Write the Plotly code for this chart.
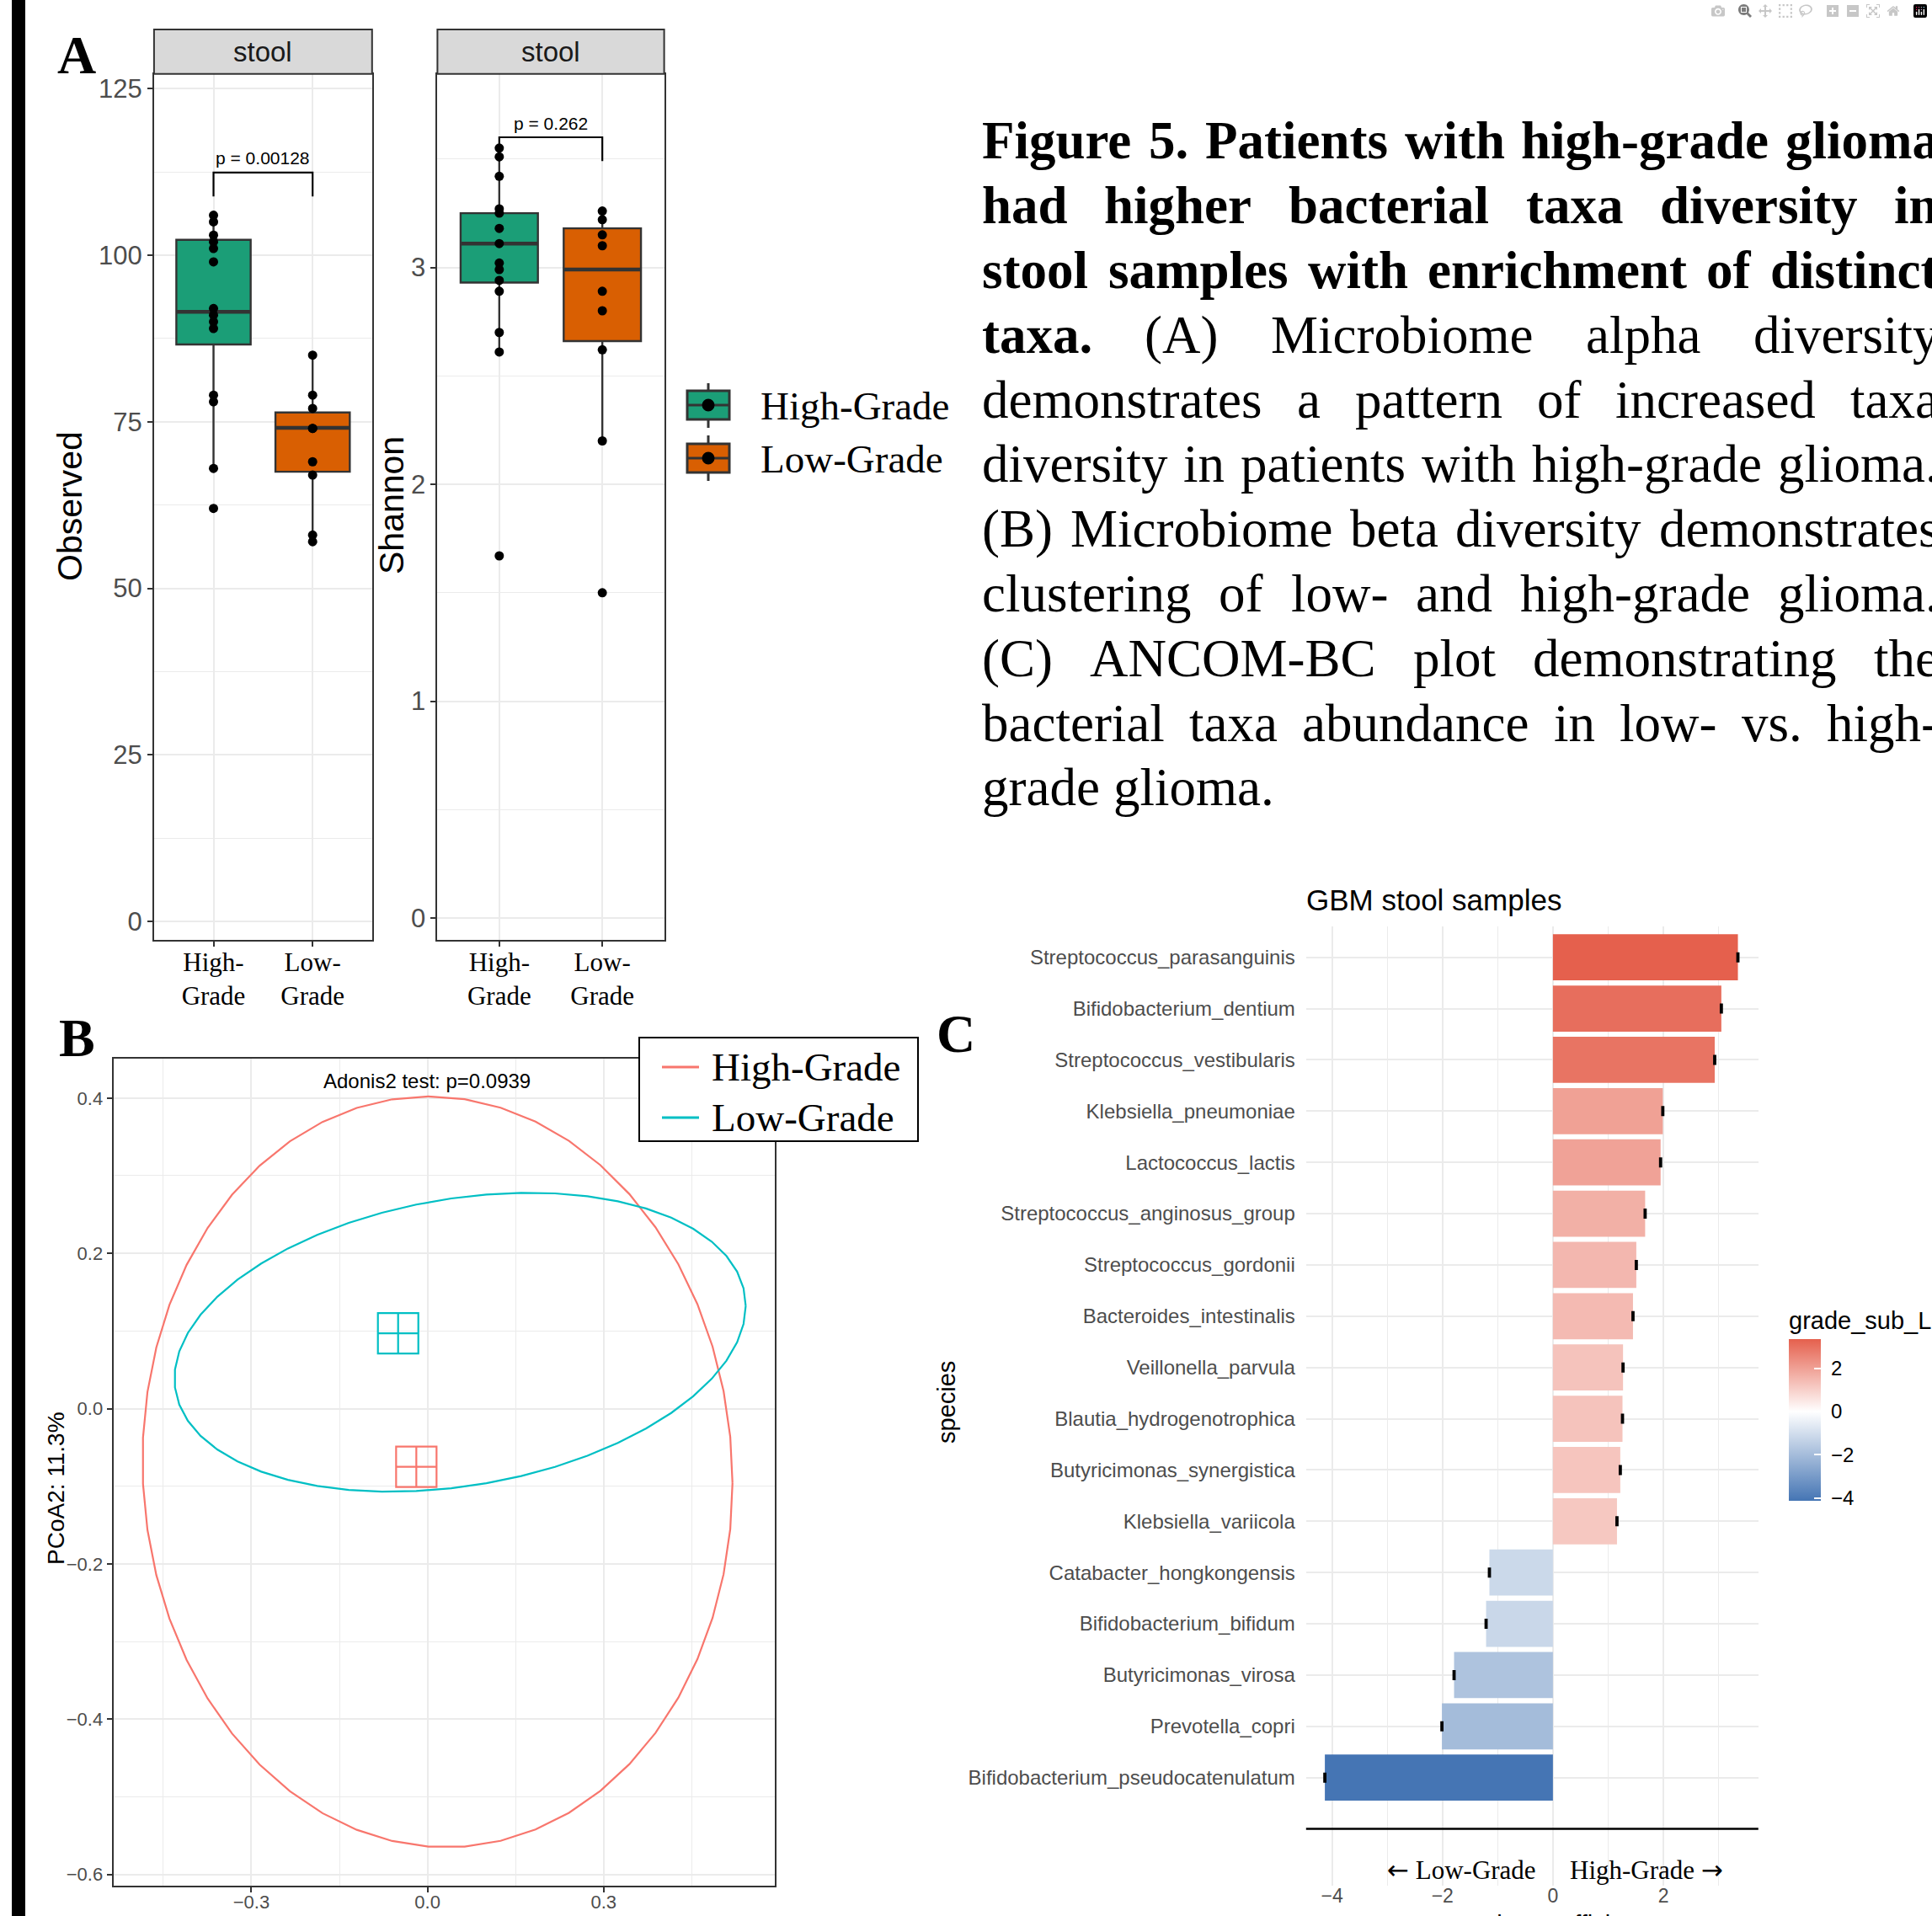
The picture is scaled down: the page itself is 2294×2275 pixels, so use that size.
import numpy as np
import plotly.graph_objects as go

W, H = 2294, 2275
SANS = "Liberation Sans, Arial, Helvetica, sans-serif"
SERIF = "Liberation Serif, Times New Roman, serif"
GRID = "#EBEBEB"
TICKGREY = "#4D4D4D"
BORDER = "#333333"

# ---------------- Panel A data (alpha diversity) ----------------
group_names = ["High-Grade", "Low-Grade"]
group_ticktext = ["High-<br>Grade", "Low-<br>Grade"]
group_fill = ["#1B9E77", "#D95F02"]
box_width = 0.75

obs_high = [106, 105, 103, 102, 101, 99, 92, 91, 90, 89, 79, 78, 68, 62]
obs_low = [85, 79, 77, 74, 74, 69, 67, 58, 57]
obs_q1 = [86.6, 67.5]
obs_median = [91.5, 74.1]
obs_q3 = [102.3, 76.4]
obs_lowerfence = [68, 57]
obs_upperfence = [106, 85]
obs_p_label = "p = 0.00128"
obs_bracket = [108.8, 112.4]
obs_p_y = 114.6

sha_high = [3.55, 3.51, 3.42, 3.27, 3.25, 3.18, 3.11, 3.02, 2.99, 2.94, 2.89, 2.70, 2.61, 1.67]
sha_low = [3.26, 3.22, 3.15, 3.10, 2.89, 2.80, 2.62, 2.20, 1.50]
sha_q1 = [2.93, 2.66]
sha_median = [3.11, 2.99]
sha_q3 = [3.25, 3.18]
sha_lowerfence = [2.61, 2.20]
sha_upperfence = [3.55, 3.26]
sha_p_label = "p = 0.262"
sha_bracket = [3.49, 3.60]
sha_p_y = 3.665

# ---------------- Panel B data (beta diversity PCoA) ----------------
beta_colors = ["#F8766D", "#00BFC4"]
centroid_x = [-0.019, -0.050]
centroid_y = [-0.075, 0.097]
ellipse_cx = [0.017, 0.0555]
ellipse_cy = [-0.0815, 0.0855]
ellipse_sxx = [0.2525, 0.2367]
ellipse_syy = [0.2339, 0.03706]
ellipse_sxy = [-0.0072, 0.0228]
adonis_label = "Adonis2 test: p=0.0939"

# ---------------- Panel C data (ANCOM-BC) ----------------
species = ["Streptococcus_parasanguinis", "Bifidobacterium_dentium", "Streptococcus_vestibularis",
           "Klebsiella_pneumoniae", "Lactococcus_lactis", "Streptococcus_anginosus_group",
           "Streptococcus_gordonii", "Bacteroides_intestinalis", "Veillonella_parvula",
           "Blautia_hydrogenotrophica", "Butyricimonas_synergistica", "Klebsiella_variicola",
           "Catabacter_hongkongensis", "Bifidobacterium_bifidum", "Butyricimonas_virosa",
           "Prevotella_copri", "Bifidobacterium_pseudocatenulatum"]
lfc = [3.35, 3.05, 2.93, 1.99, 1.95, 1.67, 1.51, 1.45, 1.27, 1.26, 1.22, 1.16,
       -1.15, -1.21, -1.79, -2.01, -4.13]
lfc_se = [0.01, 0.01, 0.01, 0.01, 0.01, 0.01, 0.01, 0.01, 0.01, 0.01, 0.01, 0.01,
          0.01, 0.01, 0.01, 0.01, 0.01]
c_ticks = [-4, -2, 0, 2]
c_ticktext = ["\u00a0\u22124", "\u00a0\u22122", "\u00a00", "\u00a02"]

# ---------------- Caption ----------------
caption_lines = [
    "Figure 5. Patients with high-grade glioma",
    "had higher bacterial taxa diversity in",
    "stool samples with enrichment of distinct",
    "taxa. (A) Microbiome alpha diversity",
    "demonstrates a pattern of increased taxa",
    "diversity in patients with high-grade glioma.",
    "(B) Microbiome beta diversity demonstrates",
    "clustering of low- and high-grade glioma.",
    "(C) ANCOM-BC plot demonstrating the",
    "bacterial taxa abundance in low- vs. high-",
    "grade glioma.",
]
caption_bold_words = [99, 99, 99, 1, 0, 0, 0, 0, 0, 0, 0]


def px(x):
    return x / W


def py(y):
    return 1 - y / H


fig = go.Figure()

# ---- Panel A boxes / points ----
panels_A = [
    ("x", "y", [obs_high, obs_low], obs_q1, obs_median, obs_q3, obs_lowerfence, obs_upperfence, obs_bracket),
    ("x2", "y2", [sha_high, sha_low], sha_q1, sha_median, sha_q3, sha_lowerfence, sha_upperfence, sha_bracket),
]
for xa, ya, pts, q1, med, q3, lf, uf, br in panels_A:
    for i in range(2):
        fig.add_trace(go.Box(
            x=[i], q1=[q1[i]], median=[med[i]], q3=[q3[i]],
            lowerfence=[lf[i]], upperfence=[uf[i]],
            width=box_width, whiskerwidth=0, fillcolor=group_fill[i],
            line=dict(color=BORDER, width=2.4), boxpoints=False,
            xaxis=xa, yaxis=ya, showlegend=False, hoverinfo="skip"))
        # thicker median line (ggplot fatten)
        fig.add_trace(go.Scatter(
            x=[i - box_width / 2, i + box_width / 2], y=[med[i], med[i]], mode="lines",
            line=dict(color=BORDER, width=4.5), xaxis=xa, yaxis=ya, showlegend=False, hoverinfo="skip"))
    for i in range(2):
        fig.add_trace(go.Scatter(
            x=[i] * len(pts[i]), y=pts[i], mode="markers",
            marker=dict(color="black", size=11), xaxis=xa, yaxis=ya,
            showlegend=False, hoverinfo="skip"))
    fig.add_trace(go.Scatter(
        x=[0, 0, 1, 1], y=[br[0], br[1], br[1], br[0]], mode="lines",
        line=dict(color="black", width=2.2), xaxis=xa, yaxis=ya,
        showlegend=False, hoverinfo="skip"))

# ---- Panel B ellipses / centroids ----
t = np.linspace(0, 2 * np.pi, 52)
for i in range(2):
    l00 = np.sqrt(ellipse_sxx[i])
    l10 = ellipse_sxy[i] / l00
    l11 = np.sqrt(ellipse_syy[i] - l10 ** 2)
    ex = ellipse_cx[i] + l00 * np.cos(t)
    ey = ellipse_cy[i] + l10 * np.cos(t) + l11 * np.sin(t)
    fig.add_trace(go.Scatter(x=ex, y=ey, mode="lines", line=dict(color=beta_colors[i], width=2.2),
                             xaxis="x3", yaxis="y3", showlegend=False, hoverinfo="skip"))
    fig.add_trace(go.Scatter(x=[centroid_x[i]], y=[centroid_y[i]], mode="markers",
                             marker=dict(symbol="square-cross-open", size=48,
                                         color=beta_colors[i], line=dict(width=2.2, color=beta_colors[i])),
                             xaxis="x3", yaxis="y3", showlegend=False, hoverinfo="skip"))

# ---- Panel C bars ----
positions = list(range(1, len(species) + 1))
cmin, cmax = min(lfc), max(lfc)
zmid = (0 - cmin) / (cmax - cmin)
fig.add_trace(go.Bar(
    x=lfc, y=positions, orientation="h", width=0.9,
    marker=dict(color=lfc, cmin=cmin, cmax=cmax,
                colorscale=[[0, "#4575B4"], [zmid, "#FFFFFF"], [1, "#E5604D"]],
                line=dict(width=0),
                colorbar=dict(x=px(2124), xanchor="left", y=py(1782), yanchor="bottom",
                              len=229 / H, lenmode="fraction", thickness=38, thicknessmode="pixels",
                              outlinewidth=0, xpad=0, ypad=0,
                              ticks="inside", tickcolor="white", ticklen=8, tickwidth=2,
                              tickvals=c_ticks, ticktext=c_ticktext,
                              tickfont=dict(size=24, color="black", family=SANS),
                              title=dict(text="grade_sub_Low-Grade", side="top",
                                         font=dict(size=29, color="black", family=SANS)))),
    error_x=dict(type="data", array=lfc_se, color="black", thickness=2.5, width=6),
    xaxis="x4", yaxis="y4", showlegend=False, hoverinfo="skip"))

# ---- Axes ----
axA = dict(showline=True, mirror=True, linecolor=BORDER, linewidth=2, ticks="outside", ticklen=6,
           tickwidth=2, tickcolor=BORDER, showgrid=True, gridcolor=GRID, gridwidth=2, zeroline=False)
yA_dom = [py(1116.3), py(87.8)]
layout = dict(
    width=W, height=H, margin=dict(l=0, r=0, t=0, b=0, autoexpand=False), autosize=False,
    paper_bgcolor="white", plot_bgcolor="white", showlegend=False,
    font=dict(family=SANS, color="black"),
    xaxis=dict(domain=[px(182.9), px(441.8)], anchor="y", range=[-0.6, 1.6], tickvals=[0, 1],
               ticktext=group_ticktext, tickfont=dict(family=SERIF, size=31, color="black"),
               ticklabelstandoff=-9, **axA),
    yaxis=dict(domain=yA_dom, anchor="x", range=[-2.8, 127.2], tickvals=[0, 25, 50, 75, 100, 125],
               tickfont=dict(size=31, color=TICKGREY),
               minor=dict(tickvals=[12.5, 37.5, 62.5, 87.5, 112.5], showgrid=True, gridcolor=GRID,
                          gridwidth=1, ticks=""), **axA),
    xaxis2=dict(domain=[px(519.4), px(788.6)], anchor="y2", range=[-0.6, 1.6], tickvals=[0, 1],
                ticktext=group_ticktext, tickfont=dict(family=SERIF, size=31, color="black"),
                ticklabelstandoff=-9, **axA),
    yaxis2=dict(domain=yA_dom, anchor="x2", range=[-0.102, 3.892], tickvals=[0, 1, 2, 3],
                tickfont=dict(size=31, color=TICKGREY),
                minor=dict(tickvals=[0.5, 1.5, 2.5, 3.5], showgrid=True, gridcolor=GRID,
                           gridwidth=1, ticks=""), **axA),
    xaxis3=dict(domain=[px(134.6), px(920.3)], anchor="y3", range=[-0.535, 0.592],
                tickvals=[-0.3, 0.0, 0.3], tickformat=".1f", tickfont=dict(size=22, color=TICKGREY),
                ticklabelstandoff=-7,
                minor=dict(tickvals=[-0.45, -0.15, 0.15, 0.45], showgrid=True, gridcolor=GRID,
                           gridwidth=1, ticks=""), **axA),
    yaxis3=dict(domain=[py(2238.5), py(1256.8)], anchor="x3", range=[-0.614, 0.451],
                tickvals=[-0.6, -0.4, -0.2, 0.0, 0.2, 0.4], tickformat=".1f",
                tickfont=dict(size=22, color=TICKGREY),
                minor=dict(tickvals=[-0.5, -0.3, -0.1, 0.1, 0.3], showgrid=True, gridcolor=GRID,
                           gridwidth=1, ticks=""), **axA),
    xaxis4=dict(domain=[px(1550.8), px(2087.8)], anchor="y4", range=[-4.47, 3.72], tickvals=c_ticks,
                tickfont=dict(size=23, color=TICKGREY), showgrid=True, gridcolor=GRID, gridwidth=2,
                minor=dict(tickvals=[-3, -1, 1, 3], showgrid=True, gridcolor=GRID, gridwidth=1, ticks=""),
                zeroline=False, showline=False, ticks="", ticklabelstandoff=-4),
    yaxis4=dict(domain=[py(2238.5), py(1100.2)], anchor="x4", range=[19.1, 0.4], tickvals=positions,
                ticktext=species, tickfont=dict(size=24, color=TICKGREY), showgrid=True, gridcolor=GRID,
                gridwidth=2, zeroline=False, showline=False, ticks="", ticklabelstandoff=12),
)

shapes = []
annotations = []


def ann(text, x, y, size, family=SANS, color="black", xanchor="center", yanchor="middle", angle=0,
        xref="paper", yref="paper"):
    annotations.append(dict(text=text, x=x, y=y, xref=xref, yref=yref, xanchor=xanchor, yanchor=yanchor,
                            textangle=angle, showarrow=False, font=dict(family=family, size=size, color=color)))


# left black bar
shapes.append(dict(type="rect", xref="paper", yref="paper", x0=px(14), x1=px(30), y0=0, y1=1,
                   fillcolor="black", line=dict(width=0), layer="above"))

# strips for panel A
strip_h = 52.7 / 1028.5
for xa, ya in [("x", "y"), ("x2", "y2")]:
    shapes.append(dict(type="rect", xref=f"{xa} domain", yref=f"{ya} domain", x0=0, x1=1, y0=1,
                       y1=1 + strip_h, fillcolor="#D9D9D9", line=dict(color=BORDER, width=2)))
    ann("stool", 0.5, 1 + strip_h / 2, 33, color="#1A1A1A", xref=f"{xa} domain", yref=f"{ya} domain")

# p-value labels
ann(obs_p_label, 0.5, obs_p_y, 21, xref="x", yref="y")
ann(sha_p_label, 0.5, sha_p_y, 21, xref="x2", yref="y2")

# axis titles
ann("Observed", px(83), py(601), 41, angle=-90)
ann("Shannon", px(465), py(600), 41, angle=-90)
ann("PCoA2: 11.3%", px(66), py(1767), 28, angle=-90)
ann(adonis_label, px(507), py(1283), 24)
ann("species", px(1124), py(1665), 29, angle=-90)
ann("GBM stool samples", px(1549), py(1068), 35, xanchor="left")
ann("Ancombc Coefficient", px(1819), py(2267), 29, yanchor="top")

# panel letters
ann("<b>A</b>", px(91), py(66), 64, family=SERIF)
ann("<b>B</b>", px(91), py(1232), 64, family=SERIF)
ann("<b>C</b>", px(1135), py(1228), 64, family=SERIF)

# Legend A (box glyphs)
for i, (yc, wy0, wy1) in enumerate([(481, 455, 508), (544, 517, 571)]):
    shapes.append(dict(type="line", xref="paper", yref="paper", x0=px(841), x1=px(841), y0=py(wy0), y1=py(wy1),
                       line=dict(color=BORDER, width=3)))
    shapes.append(dict(type="rect", xref="paper", yref="paper", x0=px(816), x1=px(866), y0=py(yc - 17),
                       y1=py(yc + 17), fillcolor=group_fill[i], line=dict(color=BORDER, width=3)))
    shapes.append(dict(type="line", xref="paper", yref="paper", x0=px(816), x1=px(866), y0=py(yc), y1=py(yc),
                       line=dict(color=BORDER, width=3)))
    shapes.append(dict(type="circle", xref="paper", yref="paper", x0=px(833.5), x1=px(848.5), y0=py(yc - 7.5),
                       y1=py(yc + 7.5), fillcolor="black", line=dict(width=0)))
    ann(group_names[i], px(901), py(yc + 1), 47, family=SERIF, xanchor="left")

# Legend B (line glyphs)
shapes.append(dict(type="rect", xref="paper", yref="paper", x0=px(759), x1=px(1090), y0=py(1232), y1=py(1355),
                   fillcolor="white", line=dict(color="black", width=2)))
for i, yc in enumerate([1267, 1327]):
    shapes.append(dict(type="line", xref="paper", yref="paper", x0=px(786), x1=px(830), y0=py(yc), y1=py(yc),
                       line=dict(color=beta_colors[i], width=3)))
    ann(group_names[i], px(843), py(yc), 47, family=SERIF, xanchor="left")

# Panel C separator line and direction labels
shapes.append(dict(type="line", xref="x4 domain", yref="y4", x0=0, x1=1, y0=18, y1=18,
                   line=dict(color="black", width=2.5)))
ARROW = '<span style="font-family:DejaVu Sans">{}</span>'
ann(ARROW.format("\u2190") + " Low-Grade", -0.27, 18.8, 31, family=SERIF, xanchor="right", xref="x4", yref="y4")
ann("High-Grade " + ARROW.format("\u2192"), 0.27, 18.8, 31, family=SERIF, xanchor="left", xref="x4", yref="y4")

# Caption (justified word layout)
REG = {' ': 250, '(': 333, ')': 333, '-': 333, '.': 250, 'A': 722, 'B': 667, 'C': 667, 'M': 889, 'N': 722,
       'O': 722, 'a': 444, 'b': 500, 'c': 444, 'd': 500, 'e': 444, 'f': 333, 'g': 500, 'h': 500, 'i': 278,
       'k': 500, 'l': 278, 'm': 778, 'n': 500, 'o': 500, 'p': 500, 'r': 333, 's': 389, 't': 278, 'u': 500,
       'v': 500, 'w': 722, 'x': 500, 'y': 500}
BOLD = {' ': 250, '.': 250, '-': 333, '5': 500, 'F': 611, 'P': 611, 'a': 500, 'b': 556, 'c': 444, 'd': 556,
        'e': 444, 'f': 333, 'g': 500, 'h': 556, 'i': 278, 'l': 278, 'm': 833, 'n': 556, 'o': 500, 'p': 556,
        'r': 444, 's': 389, 't': 333, 'u': 556, 'w': 722, 'x': 500, 'y': 500}
CAP_SIZE = 63
CAP_LEFT = 1164
CAP_RIGHT = 2300
CAP_BASE0 = 187.6
CAP_LEAD = 76.8
for k, line in enumerate(caption_lines):
    words = line.split(" ")
    bolds = [j < caption_bold_words[k] for j in range(len(words))]
    widths = [sum((BOLD if b else REG).get(c, 500) for c in w) / 1000 * CAP_SIZE for w, b in zip(words, bolds)]
    if k < len(caption_lines) - 1 and len(words) > 1:
        gap = (CAP_RIGHT - CAP_LEFT - sum(widths)) / (len(words) - 1)
    else:
        gap = 0.25 * CAP_SIZE
    xcur = CAP_LEFT
    yc = CAP_BASE0 + k * CAP_LEAD - 0.32 * CAP_SIZE
    for w, b, wd in zip(words, bolds, widths):
        ann(f"<b>{w}</b>" if b else w, px(xcur), py(yc), CAP_SIZE, family=SERIF, xanchor="left")
        xcur += wd + gap

layout["shapes"] = shapes
layout["annotations"] = annotations
fig.update_layout(**layout)

fig.write_html("out.html", post_script="document.body.style.margin='0';document.body.style.overflow='hidden';")
